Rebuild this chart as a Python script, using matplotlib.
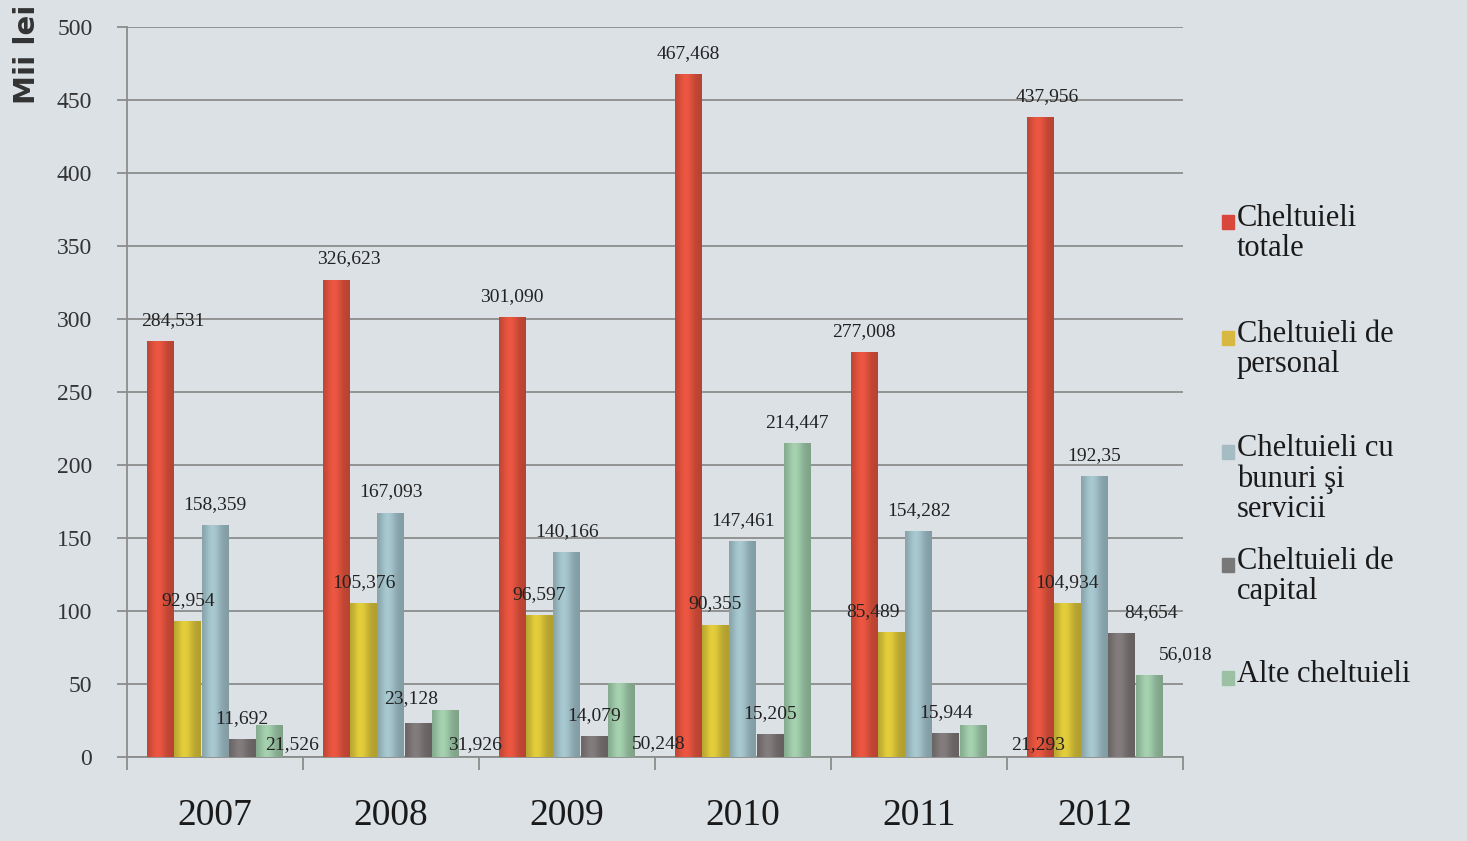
import numpy as np
import matplotlib
matplotlib.use("Agg")
import matplotlib.pyplot as plt
from matplotlib.patches import Rectangle

# values (mii lei)
years = ['2007', '2008', '2009', '2010', '2011', '2012']
totale = [284.531, 326.623, 301.090, 467.468, 277.008, 437.956]
personal = [92.954, 105.376, 96.597, 90.355, 85.489, 104.934]
bunuri = [158.359, 167.093, 140.166, 147.461, 154.282, 192.35]
capital = [11.692, 23.128, 14.079, 15.205, 15.944, 84.654]
alte = [21.526, 31.926, 50.248, 214.447, 21.293, 56.018]

labels = ['Cheltuieli\ntotale', 'Cheltuieli de\npersonal',
          'Cheltuieli cu\nbunuri şi\nservicii', 'Cheltuieli de\ncapital',
          'Alte cheltuieli']
series = [totale, personal, bunuri, capital, alte]
colors = ['#e0523d', '#d8c238', '#9fbec6', '#7c7676', '#9cc6a6']
legend_colors = ['#d9473c', '#d8b840', '#a6bcc4', '#787878', '#9cc0a4']

bg = '#dce1e6'
serif = ['Liberation Serif', 'DejaVu Serif']

# manual nudges (pixels) for labels that sit off their bar in the original
nudge = {(0, 0): (12, 0), (0, 1): (12, 0), (0, 5): (7, 0),
         (3, 1): (-7, 4), (1, 4): (-18, 0),
         (4, 0): (23, -40), (4, 1): (30, -55), (4, 2): (37, -81),
         (4, 4): (65, -40), (3, 5): (29, 0), (4, 5): (37, 0)}

fig = plt.figure(figsize=(14.67, 8.41), dpi=100, facecolor=bg)
ax = fig.add_axes([0.0866, 0.0999, 0.7195, 0.8681], facecolor=bg)

x = np.arange(len(years))
width = 0.153
offsets = (np.arange(5) - 2) * 0.155


def shade(bar, color):
    # cylinder-like horizontal shading like the original bars
    base = np.array(matplotlib.colors.to_rgb(color))
    t = np.linspace(0, 1, 64)
    prof = 0.82 + 0.24 * np.exp(-((t - 0.4) / 0.3) ** 2)
    img = np.clip(base[None, :] * prof[:, None], 0, 1)[None, :, :]
    ax.imshow(img, extent=[bar.get_x(), bar.get_x() + bar.get_width(),
                           0, bar.get_height()],
              aspect='auto', zorder=3, interpolation='bilinear')


for i, (vals, col) in enumerate(zip(series, colors)):
    bars = ax.bar(x + offsets[i], vals, width, color=col, zorder=2)
    for j, b in enumerate(bars):
        shade(b, col)
        dx, dy = nudge.get((i, j), (0, 0))
        txt = f'{vals[j]:.3f}'.rstrip('0') if i == 2 and j == 5 else f'{vals[j]:.3f}'
        txt = txt.replace('.', ',')
        ax.annotate(txt, (b.get_x() + b.get_width() / 2, b.get_height()),
                    xytext=((dx) * 0.72, (21 + dy) * 0.72),
                    textcoords='offset points', ha='center', va='center',
                    fontsize=14, family=serif, color='#222222', zorder=5)

ax.set_xlim(-0.5, 5.5)
ax.set_ylim(0, 500)
ax.set_yticks(np.arange(0, 501, 50))
ax.set_yticklabels([str(v) for v in range(0, 501, 50)], family=serif,
                   fontsize=17, color='#333333')
ax.yaxis.grid(True, color='#8c8c8c', linewidth=1.3, zorder=0)
ax.set_axisbelow(True)

ax.set_xticks(np.arange(-0.5, 6, 1))
ax.set_xticklabels([])
ax.set_xticks(x, minor=True)
ax.set_xticklabels(years, minor=True, family=serif, fontsize=27, color='#1a1a1a')
ax.tick_params(axis='x', which='minor', length=0, pad=30)
ax.tick_params(axis='x', which='major', length=9, color='#8c8c8c', width=1.3)
ax.tick_params(axis='y', length=7, color='#8c8c8c', width=1.3, pad=18)

for s in ['top', 'right']:
    ax.spines[s].set_visible(False)
for s in ['left', 'bottom']:
    ax.spines[s].set_color('#8c8c8c')
    ax.spines[s].set_linewidth(1.3)

fig.text(27 / 1467, 1 - 54 / 841, 'Mii lei', rotation=90, ha='center',
         va='center', fontsize=21, fontweight='bold', color='#333333',
         family='DejaVu Sans')

# legend drawn by hand to follow the original layout
tops = [222, 338, 452, 565, 678]
for lab, col, yc in zip(labels, legend_colors, tops):
    fig.patches.append(Rectangle((1222 / 1467, 1 - (yc + 7) / 841),
                                 12 / 1467, 14 / 841, transform=fig.transFigure,
                                 color=col, zorder=3))
    fig.text(1237 / 1467, 1 - (yc - 18) / 841, lab, ha='left', va='top',
             fontsize=22, family=serif, color='#1a1a1a', linespacing=1.05)

fig.savefig('out.png', dpi=100, facecolor=bg)
